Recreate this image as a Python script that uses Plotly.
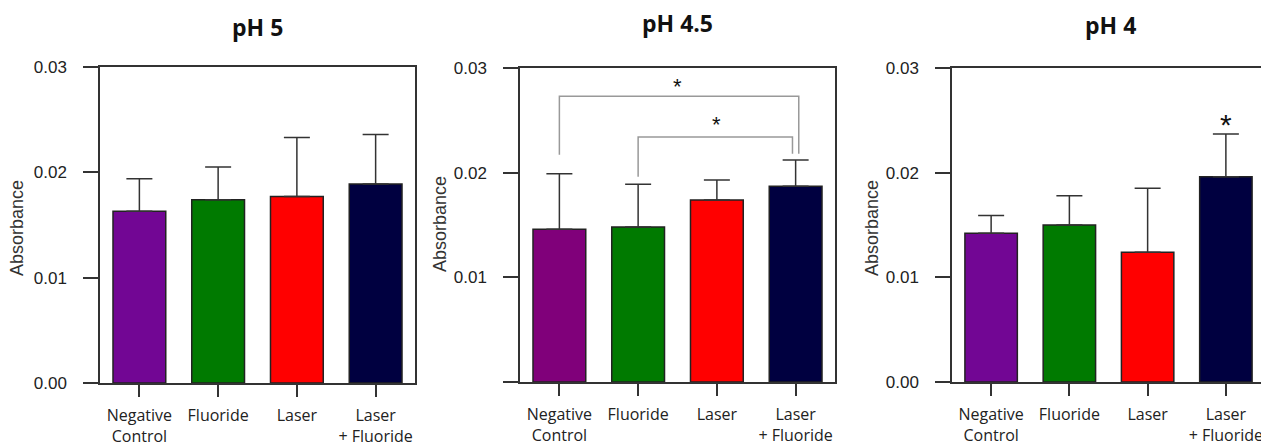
import plotly.graph_objects as go

OFF = 8  # page body margin
W, H = 1269 - OFF, 448 - OFF

categories = ["Negative<br>Control", "Fluoride", "Laser", "Laser<br>+ Fluoride"]
titles = ["pH 5", "pH 4.5", "pH 4"]

ph5_mean = [0.0163, 0.0174, 0.0177, 0.0189]
ph5_err = [0.0031, 0.0031, 0.0056, 0.0047]

ph45_mean = [0.0146, 0.0148, 0.0174, 0.0187]
ph45_err = [0.0053, 0.0041, 0.0019, 0.0025]

ph4_mean = [0.0142, 0.0150, 0.0124, 0.0196]
ph4_err = [0.0017, 0.0028, 0.0061, 0.0041]

colors_p1 = ["#720694", "#007A00", "#FF0000", "#000040"]
colors_p2 = ["#80007A", "#007A00", "#FF0000", "#000040"]
colors_p3 = ["#720694", "#007A00", "#FF0000", "#000040"]

# significance brackets in pH 4.5 panel
bracket_from = [0, 1]
bracket_to = [3, 3]
bracket_y = [0.0273, 0.0234]
bracket_left_end = [0.0217, 0.0196]
bracket_right_end = [0.0218, 0.0218]
bracket_star_y = [0.0287, 0.0251]

# star over pH 4 Laser + Fluoride
star_cat_p3 = 3
star_y_p3 = 0.0253


def px(x):
    return (x - OFF) / W


def py(y):
    return 1 - (y - OFF) / H


# panel pixel boxes in window coords (left, right, top, bottom)
boxes = [(100, 415, 67, 383), (520, 835, 68, 382), (952, 1265, 68, 382)]

fig = go.Figure()
data = [(ph5_mean, ph5_err, colors_p1), (ph45_mean, ph45_err, colors_p2), (ph4_mean, ph4_err, colors_p3)]
xs = list(range(len(categories)))

for i, (m, e, c) in enumerate(data):
    sfx = "" if i == 0 else str(i + 1)
    fig.add_trace(go.Bar(
        x=xs, y=m, marker=dict(color=c, line=dict(color="#222", width=1.5)),
        width=0.67,
        error_y=dict(type="data", array=e, arrayminus=[0] * len(e), symmetric=False,
                     color="#333", thickness=1.5, width=13),
        xaxis="x" + sfx, yaxis="y" + sfx, showlegend=False,
    ))

tickfont = dict(family="Liberation Sans, Arial", size=17, color="#222")
catfont = dict(family="Open Sans", size=16, color="#222")

layout = dict(width=W, height=H, margin=dict(l=0, r=0, t=0, b=0, autoexpand=False),
              plot_bgcolor="white", paper_bgcolor="white", bargap=0.33)
annotations = []
shapes = []
for i, (l, r, t, b) in enumerate(boxes):
    sfx = "" if i == 0 else str(i + 1)
    layout["xaxis" + sfx] = dict(
        domain=[px(l), min(px(r), 1.0)], anchor="y" + sfx, range=[-0.5, 3.5],
        tickvals=xs, ticktext=categories, ticks="outside", ticklen=12, tickwidth=1.5,
        tickcolor="#333", showline=True, linecolor="#333", linewidth=1.5, mirror=True,
        showgrid=False, zeroline=False, tickfont=catfont, fixedrange=True,
        automargin=False, ticklabelstandoff=5,
    )
    ticktext = ["0.00", "0.01", "0.02", "0.03"] if i != 1 else ["", "0.01", "0.02", "0.03"]
    layout["yaxis" + sfx] = dict(
        domain=[py(b), py(t)], anchor="x" + sfx, range=[0, 0.03],
        tickvals=[0, 0.01, 0.02, 0.03], ticktext=ticktext, ticks="outside", ticklen=15,
        tickwidth=1.5, tickcolor="#333", showline=True, linecolor="#333", linewidth=1.5,
        mirror=True, showgrid=False, zeroline=False, tickfont=tickfont,
        ticklabelstandoff=13, automargin=False,
    )
    annotations.append(dict(
        text=titles[i], xref="paper", yref="paper",
        x=px([257, 677, 1110][i]), y=py([27, 23, 25][i]),
        showarrow=False, font=dict(family="Open Sans", size=23, color="#111", weight="bold"),
        xanchor="center", yanchor="middle",
    ))
    annotations.append(dict(
        text="Absorbance", xref="paper", yref="paper",
        x=px([17, 440, 872][i]), y=py([228, 224, 228][i]), textangle=-90,
        showarrow=False, font=dict(family="Liberation Sans, Arial", size=18, color="#333"),
        xanchor="center", yanchor="middle",
    ))

for j in range(len(bracket_y)):
    x0 = bracket_from[j]
    x1 = bracket_to[j] + (0.04 if j == 0 else -0.04)
    shapes.append(dict(
        type="path", xref="x2", yref="y2",
        path=f"M {x0} {bracket_left_end[j]} L {x0} {bracket_y[j]} L {x1} {bracket_y[j]} L {x1} {bracket_right_end[j]}",
        line=dict(color="#999", width=1.5),
    ))
    annotations.append(dict(
        text="*", xref="x2", yref="y2", x=(bracket_from[j] + bracket_to[j]) / 2,
        y=bracket_star_y[j], showarrow=False, yanchor="middle", yshift=-5,
        font=dict(family="Liberation Sans, Arial", size=22, color="#111"),
    ))

annotations.append(dict(
    text="*", xref="x3", yref="y3", x=star_cat_p3, y=star_y_p3, showarrow=False,
    yanchor="middle", yshift=-7, font=dict(family="Liberation Sans, Arial", size=30, color="#111"),
))

layout["annotations"] = annotations
layout["shapes"] = shapes
fig.update_layout(**layout)
fig.write_html("out.html")
